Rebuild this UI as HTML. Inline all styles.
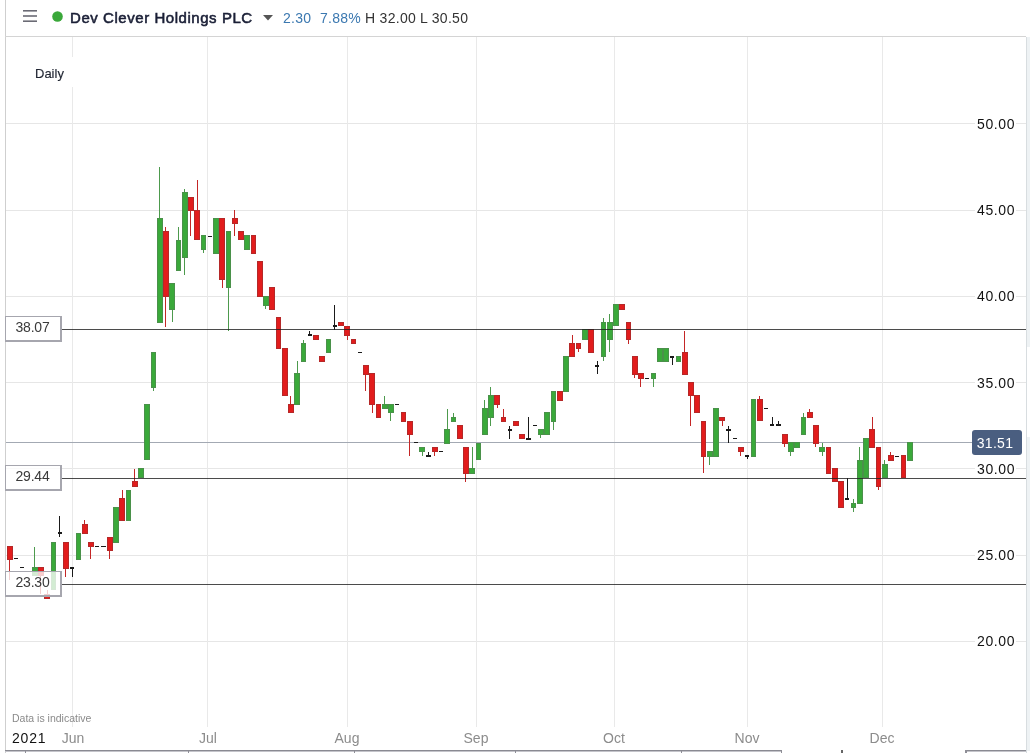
<!DOCTYPE html>
<html><head><meta charset="utf-8"><style>
*{margin:0;padding:0;box-sizing:border-box}
html,body{width:1030px;height:753px;overflow:hidden;background:#fff;font-family:"Liberation Sans",sans-serif}
#root{position:relative;width:1030px;height:753px;background:#fff}
.abs{position:absolute}
.t{will-change:transform}
.pl{position:absolute;right:14px;height:18px;line-height:18px;font-size:14px;color:#111;background:#fff;padding:0 1px 0 2px;letter-spacing:0.6px;will-change:transform}
.ml{will-change:transform;position:absolute;top:729px;width:40px;text-align:center;font-size:14px;color:#8c8c8c;line-height:18px}
.lb{will-change:transform;position:absolute;left:5px;width:57px;height:26px;border:1px solid #a6a6ae;border-right-width:2px;border-bottom-width:2px;background:rgba(255,255,255,0.78);font-size:14px;letter-spacing:-0.2px;color:#3a3a3a;line-height:21px;text-align:center;padding-right:1px}
</style></head><body><div id="root">
<svg class="abs" style="left:0;top:0" width="1030" height="753" shape-rendering="crispEdges">
<rect x="5" y="0" width="1" height="753" fill="#cfcfcf"/>
<rect x="5" y="36" width="1021" height="1" fill="#d4d4d4"/>
<rect x="1026" y="37" width="1" height="716" fill="#d8dde0"/>
<rect x="1027" y="37" width="3" height="310" fill="#eef2f4"/>
<rect x="1027" y="437" width="3" height="314" fill="#eef2f4"/>
<rect x="6" y="123" width="1020" height="1" fill="#e6e6e6"/>
<rect x="6" y="210" width="1020" height="1" fill="#e6e6e6"/>
<rect x="6" y="296" width="1020" height="1" fill="#e6e6e6"/>
<rect x="6" y="382" width="1020" height="1" fill="#e6e6e6"/>
<rect x="6" y="468" width="1020" height="1" fill="#e6e6e6"/>
<rect x="6" y="555" width="1020" height="1" fill="#e6e6e6"/>
<rect x="6" y="641" width="1020" height="1" fill="#e6e6e6"/>
<rect x="72" y="37" width="1" height="690" fill="#e9e9e9"/>
<rect x="207" y="37" width="1" height="690" fill="#e9e9e9"/>
<rect x="347" y="37" width="1" height="690" fill="#e9e9e9"/>
<rect x="476" y="37" width="1" height="690" fill="#e9e9e9"/>
<rect x="614" y="37" width="1" height="690" fill="#e9e9e9"/>
<rect x="747" y="37" width="1" height="690" fill="#e9e9e9"/>
<rect x="882" y="37" width="1" height="690" fill="#e9e9e9"/>
<rect x="6" y="442" width="966" height="1" fill="#a3a9b3"/>
</svg>
<div class="abs" style="left:28px;top:57px;width:46px;height:30px;background:#fff"></div>
<div class="abs t" style="left:35px;top:65px;font-size:13px;color:#1e2330;-webkit-text-stroke:0.15px #1e2330;line-height:18px">Daily</div>
<div class="pl" style="top:115px">50.00</div><div class="pl" style="top:201px">45.00</div><div class="pl" style="top:287px">40.00</div><div class="pl" style="top:374px">35.00</div><div class="pl" style="top:460px">30.00</div><div class="pl" style="top:546px">25.00</div><div class="pl" style="top:632px">20.00</div>
<svg class="abs" style="left:0;top:0" width="1030" height="753" shape-rendering="crispEdges">
<rect x="9" y="546" width="1" height="34" fill="#c42626"/>
<rect x="7" y="546" width="6" height="14" fill="#b52828"/>
<rect x="8" y="547" width="4" height="12" fill="#e21c1c"/>
<rect x="14" y="558" width="4" height="1" fill="#1a1a1a"/>
<rect x="20" y="567" width="4" height="1" fill="#1a1a1a"/>
<rect x="34" y="547" width="1" height="29" fill="#4d9a4d"/>
<rect x="32" y="567" width="6" height="9" fill="#4a914a"/>
<rect x="33" y="568" width="4" height="7" fill="#3aa93a"/>
<rect x="40" y="567" width="1" height="27" fill="#c42626"/>
<rect x="38" y="567" width="6" height="9" fill="#b52828"/>
<rect x="39" y="568" width="4" height="7" fill="#e21c1c"/>
<rect x="47" y="590" width="1" height="9" fill="#c42626"/>
<rect x="44" y="594" width="6" height="5" fill="#b52828"/>
<rect x="45" y="595" width="4" height="3" fill="#e21c1c"/>
<rect x="51" y="542" width="5" height="48" fill="#4a914a"/>
<rect x="52" y="543" width="3" height="46" fill="#3aa93a"/>
<rect x="59" y="516" width="1" height="21" fill="#1a1a1a"/>
<rect x="58" y="532" width="4" height="2" fill="#1a1a1a"/>
<rect x="65" y="542" width="1" height="35" fill="#c42626"/>
<rect x="63" y="542" width="6" height="27" fill="#b52828"/>
<rect x="64" y="543" width="4" height="25" fill="#e21c1c"/>
<rect x="72" y="567" width="1" height="10" fill="#1a1a1a"/>
<rect x="70" y="567" width="4" height="2" fill="#1a1a1a"/>
<rect x="76" y="533" width="5" height="27" fill="#4a914a"/>
<rect x="77" y="534" width="3" height="25" fill="#3aa93a"/>
<rect x="84" y="520" width="1" height="14" fill="#c42626"/>
<rect x="82" y="524" width="6" height="10" fill="#b52828"/>
<rect x="83" y="525" width="4" height="8" fill="#e21c1c"/>
<rect x="90" y="542" width="1" height="17" fill="#c42626"/>
<rect x="88" y="542" width="6" height="5" fill="#b52828"/>
<rect x="89" y="543" width="4" height="3" fill="#e21c1c"/>
<rect x="95" y="546" width="4" height="1" fill="#1a1a1a"/>
<rect x="101" y="546" width="5" height="1" fill="#1a1a1a"/>
<rect x="109" y="537" width="1" height="22" fill="#c42626"/>
<rect x="107" y="537" width="6" height="14" fill="#b52828"/>
<rect x="108" y="538" width="4" height="12" fill="#e21c1c"/>
<rect x="113" y="507" width="6" height="36" fill="#4a914a"/>
<rect x="114" y="508" width="4" height="34" fill="#3aa93a"/>
<rect x="122" y="490" width="1" height="31" fill="#c42626"/>
<rect x="119" y="498" width="6" height="23" fill="#b52828"/>
<rect x="120" y="499" width="4" height="21" fill="#e21c1c"/>
<rect x="126" y="490" width="5" height="31" fill="#4a914a"/>
<rect x="127" y="491" width="3" height="29" fill="#3aa93a"/>
<rect x="134" y="469" width="1" height="18" fill="#c42626"/>
<rect x="132" y="481" width="6" height="6" fill="#b52828"/>
<rect x="133" y="482" width="4" height="4" fill="#e21c1c"/>
<rect x="138" y="468" width="6" height="10" fill="#4a914a"/>
<rect x="139" y="469" width="4" height="8" fill="#3aa93a"/>
<rect x="144" y="404" width="6" height="56" fill="#4a914a"/>
<rect x="145" y="405" width="4" height="54" fill="#3aa93a"/>
<rect x="153" y="352" width="1" height="39" fill="#4d9a4d"/>
<rect x="151" y="352" width="5" height="36" fill="#4a914a"/>
<rect x="152" y="353" width="3" height="34" fill="#3aa93a"/>
<rect x="159" y="167" width="1" height="156" fill="#4d9a4d"/>
<rect x="157" y="218" width="6" height="105" fill="#4a914a"/>
<rect x="158" y="219" width="4" height="103" fill="#3aa93a"/>
<rect x="165" y="227" width="1" height="100" fill="#c42626"/>
<rect x="163" y="231" width="6" height="66" fill="#b52828"/>
<rect x="164" y="232" width="4" height="64" fill="#e21c1c"/>
<rect x="172" y="283" width="1" height="39" fill="#4d9a4d"/>
<rect x="169" y="283" width="6" height="27" fill="#4a914a"/>
<rect x="170" y="284" width="4" height="25" fill="#3aa93a"/>
<rect x="178" y="227" width="1" height="44" fill="#4d9a4d"/>
<rect x="176" y="240" width="5" height="31" fill="#4a914a"/>
<rect x="177" y="241" width="3" height="29" fill="#3aa93a"/>
<rect x="184" y="189" width="1" height="86" fill="#4d9a4d"/>
<rect x="182" y="192" width="6" height="66" fill="#4a914a"/>
<rect x="183" y="193" width="4" height="64" fill="#3aa93a"/>
<rect x="190" y="197" width="1" height="39" fill="#c42626"/>
<rect x="188" y="197" width="6" height="14" fill="#b52828"/>
<rect x="189" y="198" width="4" height="12" fill="#e21c1c"/>
<rect x="197" y="180" width="1" height="60" fill="#c42626"/>
<rect x="194" y="210" width="6" height="30" fill="#b52828"/>
<rect x="195" y="211" width="4" height="28" fill="#e21c1c"/>
<rect x="203" y="235" width="1" height="18" fill="#4d9a4d"/>
<rect x="201" y="235" width="5" height="15" fill="#4a914a"/>
<rect x="202" y="236" width="3" height="13" fill="#3aa93a"/>
<rect x="208" y="236" width="4" height="1" fill="#1a1a1a"/>
<rect x="213" y="218" width="6" height="36" fill="#4a914a"/>
<rect x="214" y="219" width="4" height="34" fill="#3aa93a"/>
<rect x="222" y="218" width="1" height="70" fill="#c42626"/>
<rect x="219" y="218" width="6" height="62" fill="#b52828"/>
<rect x="220" y="219" width="4" height="60" fill="#e21c1c"/>
<rect x="228" y="231" width="1" height="100" fill="#4d9a4d"/>
<rect x="226" y="231" width="5" height="57" fill="#4a914a"/>
<rect x="227" y="232" width="3" height="55" fill="#3aa93a"/>
<rect x="234" y="210" width="1" height="26" fill="#c42626"/>
<rect x="232" y="218" width="6" height="6" fill="#b52828"/>
<rect x="233" y="219" width="4" height="4" fill="#e21c1c"/>
<rect x="238" y="231" width="6" height="9" fill="#b52828"/>
<rect x="239" y="232" width="4" height="7" fill="#e21c1c"/>
<rect x="244" y="235" width="6" height="15" fill="#4a914a"/>
<rect x="245" y="236" width="4" height="13" fill="#3aa93a"/>
<rect x="251" y="235" width="5" height="19" fill="#b52828"/>
<rect x="252" y="236" width="3" height="17" fill="#e21c1c"/>
<rect x="257" y="261" width="6" height="36" fill="#b52828"/>
<rect x="258" y="262" width="4" height="34" fill="#e21c1c"/>
<rect x="265" y="296" width="1" height="13" fill="#4d9a4d"/>
<rect x="263" y="296" width="6" height="10" fill="#4a914a"/>
<rect x="264" y="297" width="4" height="8" fill="#3aa93a"/>
<rect x="269" y="287" width="6" height="23" fill="#b52828"/>
<rect x="270" y="288" width="4" height="21" fill="#e21c1c"/>
<rect x="276" y="317" width="5" height="32" fill="#b52828"/>
<rect x="277" y="318" width="3" height="30" fill="#e21c1c"/>
<rect x="282" y="348" width="6" height="48" fill="#b52828"/>
<rect x="283" y="349" width="4" height="46" fill="#e21c1c"/>
<rect x="290" y="396" width="1" height="17" fill="#c42626"/>
<rect x="288" y="404" width="6" height="9" fill="#b52828"/>
<rect x="289" y="405" width="4" height="7" fill="#e21c1c"/>
<rect x="297" y="361" width="1" height="44" fill="#4d9a4d"/>
<rect x="294" y="373" width="6" height="32" fill="#4a914a"/>
<rect x="295" y="374" width="4" height="30" fill="#3aa93a"/>
<rect x="303" y="340" width="1" height="22" fill="#4d9a4d"/>
<rect x="301" y="343" width="5" height="19" fill="#4a914a"/>
<rect x="302" y="344" width="3" height="17" fill="#3aa93a"/>
<rect x="309" y="331" width="1" height="5" fill="#1a1a1a"/>
<rect x="308" y="334" width="4" height="2" fill="#1a1a1a"/>
<rect x="313" y="335" width="6" height="5" fill="#b52828"/>
<rect x="314" y="336" width="4" height="3" fill="#e21c1c"/>
<rect x="319" y="356" width="6" height="6" fill="#b52828"/>
<rect x="320" y="357" width="4" height="4" fill="#e21c1c"/>
<rect x="326" y="339" width="5" height="14" fill="#4a914a"/>
<rect x="327" y="340" width="3" height="12" fill="#3aa93a"/>
<rect x="334" y="305" width="1" height="25" fill="#1a1a1a"/>
<rect x="333" y="325" width="4" height="2" fill="#1a1a1a"/>
<rect x="338" y="322" width="6" height="4" fill="#b52828"/>
<rect x="339" y="323" width="4" height="2" fill="#e21c1c"/>
<rect x="347" y="326" width="1" height="14" fill="#c42626"/>
<rect x="344" y="326" width="6" height="10" fill="#b52828"/>
<rect x="345" y="327" width="4" height="8" fill="#e21c1c"/>
<rect x="351" y="339" width="5" height="5" fill="#b52828"/>
<rect x="352" y="340" width="3" height="3" fill="#e21c1c"/>
<rect x="358" y="352" width="4" height="1" fill="#1a1a1a"/>
<rect x="365" y="365" width="1" height="26" fill="#c42626"/>
<rect x="363" y="365" width="6" height="10" fill="#b52828"/>
<rect x="364" y="366" width="4" height="8" fill="#e21c1c"/>
<rect x="372" y="373" width="1" height="40" fill="#c42626"/>
<rect x="369" y="373" width="6" height="32" fill="#b52828"/>
<rect x="370" y="374" width="4" height="30" fill="#e21c1c"/>
<rect x="376" y="404" width="5" height="14" fill="#b52828"/>
<rect x="377" y="405" width="3" height="12" fill="#e21c1c"/>
<rect x="384" y="396" width="1" height="13" fill="#4d9a4d"/>
<rect x="382" y="404" width="6" height="5" fill="#4a914a"/>
<rect x="383" y="405" width="4" height="3" fill="#3aa93a"/>
<rect x="390" y="404" width="1" height="17" fill="#4d9a4d"/>
<rect x="388" y="404" width="6" height="9" fill="#4a914a"/>
<rect x="389" y="405" width="4" height="7" fill="#3aa93a"/>
<rect x="395" y="404" width="4" height="1" fill="#1a1a1a"/>
<rect x="401" y="412" width="5" height="10" fill="#b52828"/>
<rect x="402" y="413" width="3" height="8" fill="#e21c1c"/>
<rect x="409" y="421" width="1" height="35" fill="#c42626"/>
<rect x="407" y="421" width="6" height="14" fill="#b52828"/>
<rect x="408" y="422" width="4" height="12" fill="#e21c1c"/>
<rect x="414" y="442" width="4" height="1" fill="#1a1a1a"/>
<rect x="422" y="447" width="1" height="9" fill="#4d9a4d"/>
<rect x="419" y="447" width="6" height="5" fill="#4a914a"/>
<rect x="420" y="448" width="4" height="3" fill="#3aa93a"/>
<rect x="428" y="452" width="1" height="5" fill="#1a1a1a"/>
<rect x="426" y="455" width="5" height="2" fill="#1a1a1a"/>
<rect x="434" y="447" width="1" height="9" fill="#c42626"/>
<rect x="432" y="447" width="6" height="5" fill="#b52828"/>
<rect x="433" y="448" width="4" height="3" fill="#e21c1c"/>
<rect x="439" y="451" width="4" height="1" fill="#1a1a1a"/>
<rect x="447" y="409" width="1" height="35" fill="#4d9a4d"/>
<rect x="444" y="429" width="6" height="15" fill="#4a914a"/>
<rect x="445" y="430" width="4" height="13" fill="#3aa93a"/>
<rect x="453" y="413" width="1" height="9" fill="#4d9a4d"/>
<rect x="451" y="417" width="5" height="5" fill="#4a914a"/>
<rect x="452" y="418" width="3" height="3" fill="#3aa93a"/>
<rect x="457" y="425" width="6" height="14" fill="#b52828"/>
<rect x="458" y="426" width="4" height="12" fill="#e21c1c"/>
<rect x="465" y="447" width="1" height="35" fill="#c42626"/>
<rect x="463" y="447" width="6" height="27" fill="#b52828"/>
<rect x="464" y="448" width="4" height="25" fill="#e21c1c"/>
<rect x="472" y="447" width="1" height="27" fill="#4d9a4d"/>
<rect x="469" y="468" width="6" height="6" fill="#4a914a"/>
<rect x="470" y="469" width="4" height="4" fill="#3aa93a"/>
<rect x="476" y="443" width="5" height="17" fill="#4a914a"/>
<rect x="477" y="444" width="3" height="15" fill="#3aa93a"/>
<rect x="484" y="400" width="1" height="35" fill="#4d9a4d"/>
<rect x="482" y="408" width="6" height="27" fill="#4a914a"/>
<rect x="483" y="409" width="4" height="25" fill="#3aa93a"/>
<rect x="490" y="387" width="1" height="39" fill="#4d9a4d"/>
<rect x="488" y="395" width="6" height="23" fill="#4a914a"/>
<rect x="489" y="396" width="4" height="21" fill="#3aa93a"/>
<rect x="497" y="395" width="1" height="13" fill="#c42626"/>
<rect x="494" y="395" width="6" height="10" fill="#b52828"/>
<rect x="495" y="396" width="4" height="8" fill="#e21c1c"/>
<rect x="503" y="409" width="1" height="13" fill="#c42626"/>
<rect x="501" y="417" width="5" height="5" fill="#b52828"/>
<rect x="502" y="418" width="3" height="3" fill="#e21c1c"/>
<rect x="509" y="426" width="1" height="13" fill="#1a1a1a"/>
<rect x="508" y="429" width="4" height="2" fill="#1a1a1a"/>
<rect x="513" y="421" width="6" height="5" fill="#b52828"/>
<rect x="514" y="422" width="4" height="3" fill="#e21c1c"/>
<rect x="519" y="434" width="6" height="5" fill="#b52828"/>
<rect x="520" y="435" width="4" height="3" fill="#e21c1c"/>
<rect x="528" y="417" width="1" height="23" fill="#1a1a1a"/>
<rect x="526" y="438" width="5" height="2" fill="#1a1a1a"/>
<rect x="533" y="425" width="4" height="1" fill="#1a1a1a"/>
<rect x="540" y="429" width="1" height="9" fill="#4d9a4d"/>
<rect x="538" y="429" width="6" height="6" fill="#4a914a"/>
<rect x="539" y="430" width="4" height="4" fill="#3aa93a"/>
<rect x="544" y="412" width="6" height="23" fill="#4a914a"/>
<rect x="545" y="413" width="4" height="21" fill="#3aa93a"/>
<rect x="553" y="391" width="1" height="39" fill="#4d9a4d"/>
<rect x="551" y="391" width="5" height="31" fill="#4a914a"/>
<rect x="552" y="392" width="3" height="29" fill="#3aa93a"/>
<rect x="557" y="391" width="6" height="10" fill="#b52828"/>
<rect x="558" y="392" width="4" height="8" fill="#e21c1c"/>
<rect x="563" y="356" width="6" height="36" fill="#4a914a"/>
<rect x="564" y="357" width="4" height="34" fill="#3aa93a"/>
<rect x="572" y="335" width="1" height="22" fill="#c42626"/>
<rect x="569" y="343" width="6" height="14" fill="#b52828"/>
<rect x="570" y="344" width="4" height="12" fill="#e21c1c"/>
<rect x="578" y="343" width="1" height="9" fill="#c42626"/>
<rect x="576" y="343" width="5" height="6" fill="#b52828"/>
<rect x="577" y="344" width="3" height="4" fill="#e21c1c"/>
<rect x="582" y="329" width="6" height="11" fill="#4a914a"/>
<rect x="583" y="330" width="4" height="9" fill="#3aa93a"/>
<rect x="588" y="329" width="6" height="24" fill="#b52828"/>
<rect x="589" y="330" width="4" height="22" fill="#e21c1c"/>
<rect x="597" y="361" width="1" height="13" fill="#1a1a1a"/>
<rect x="595" y="365" width="4" height="2" fill="#1a1a1a"/>
<rect x="603" y="318" width="1" height="43" fill="#4d9a4d"/>
<rect x="601" y="322" width="5" height="35" fill="#4a914a"/>
<rect x="602" y="323" width="3" height="33" fill="#3aa93a"/>
<rect x="609" y="314" width="1" height="38" fill="#4d9a4d"/>
<rect x="607" y="322" width="6" height="18" fill="#4a914a"/>
<rect x="608" y="323" width="4" height="16" fill="#3aa93a"/>
<rect x="613" y="304" width="6" height="22" fill="#4a914a"/>
<rect x="614" y="305" width="4" height="20" fill="#3aa93a"/>
<rect x="619" y="304" width="6" height="6" fill="#b52828"/>
<rect x="620" y="305" width="4" height="4" fill="#e21c1c"/>
<rect x="628" y="322" width="1" height="22" fill="#c42626"/>
<rect x="626" y="322" width="5" height="18" fill="#b52828"/>
<rect x="627" y="323" width="3" height="16" fill="#e21c1c"/>
<rect x="634" y="356" width="1" height="22" fill="#c42626"/>
<rect x="632" y="356" width="6" height="19" fill="#b52828"/>
<rect x="633" y="357" width="4" height="17" fill="#e21c1c"/>
<rect x="640" y="373" width="1" height="14" fill="#c42626"/>
<rect x="638" y="373" width="6" height="6" fill="#b52828"/>
<rect x="639" y="374" width="4" height="4" fill="#e21c1c"/>
<rect x="645" y="378" width="4" height="1" fill="#1a1a1a"/>
<rect x="653" y="373" width="1" height="14" fill="#4d9a4d"/>
<rect x="651" y="373" width="5" height="6" fill="#4a914a"/>
<rect x="652" y="374" width="3" height="4" fill="#3aa93a"/>
<rect x="657" y="348" width="6" height="14" fill="#4a914a"/>
<rect x="658" y="349" width="4" height="12" fill="#3aa93a"/>
<rect x="663" y="348" width="6" height="14" fill="#4a914a"/>
<rect x="664" y="349" width="4" height="12" fill="#3aa93a"/>
<rect x="672" y="356" width="1" height="9" fill="#1a1a1a"/>
<rect x="670" y="356" width="4" height="2" fill="#1a1a1a"/>
<rect x="676" y="356" width="5" height="6" fill="#4a914a"/>
<rect x="677" y="357" width="3" height="4" fill="#3aa93a"/>
<rect x="684" y="331" width="1" height="44" fill="#c42626"/>
<rect x="682" y="352" width="6" height="23" fill="#b52828"/>
<rect x="683" y="353" width="4" height="21" fill="#e21c1c"/>
<rect x="690" y="382" width="1" height="44" fill="#c42626"/>
<rect x="688" y="382" width="6" height="14" fill="#b52828"/>
<rect x="689" y="383" width="4" height="12" fill="#e21c1c"/>
<rect x="694" y="395" width="6" height="18" fill="#b52828"/>
<rect x="695" y="396" width="4" height="16" fill="#e21c1c"/>
<rect x="703" y="421" width="1" height="52" fill="#c42626"/>
<rect x="701" y="421" width="5" height="36" fill="#b52828"/>
<rect x="702" y="422" width="3" height="34" fill="#e21c1c"/>
<rect x="709" y="451" width="1" height="14" fill="#4d9a4d"/>
<rect x="707" y="451" width="6" height="6" fill="#4a914a"/>
<rect x="708" y="452" width="4" height="4" fill="#3aa93a"/>
<rect x="713" y="408" width="6" height="49" fill="#4a914a"/>
<rect x="714" y="409" width="4" height="47" fill="#3aa93a"/>
<rect x="722" y="417" width="1" height="9" fill="#c42626"/>
<rect x="719" y="417" width="6" height="4" fill="#b52828"/>
<rect x="720" y="418" width="4" height="2" fill="#e21c1c"/>
<rect x="728" y="426" width="1" height="17" fill="#1a1a1a"/>
<rect x="726" y="429" width="5" height="2" fill="#1a1a1a"/>
<rect x="733" y="438" width="4" height="1" fill="#1a1a1a"/>
<rect x="740" y="447" width="1" height="9" fill="#c42626"/>
<rect x="738" y="447" width="6" height="5" fill="#b52828"/>
<rect x="739" y="448" width="4" height="3" fill="#e21c1c"/>
<rect x="747" y="455" width="1" height="4" fill="#1a1a1a"/>
<rect x="745" y="455" width="4" height="2" fill="#1a1a1a"/>
<rect x="751" y="399" width="5" height="58" fill="#4a914a"/>
<rect x="752" y="400" width="3" height="56" fill="#3aa93a"/>
<rect x="759" y="396" width="1" height="25" fill="#c42626"/>
<rect x="757" y="399" width="6" height="22" fill="#b52828"/>
<rect x="758" y="400" width="4" height="20" fill="#e21c1c"/>
<rect x="764" y="408" width="4" height="1" fill="#1a1a1a"/>
<rect x="772" y="417" width="1" height="9" fill="#1a1a1a"/>
<rect x="770" y="424" width="4" height="2" fill="#1a1a1a"/>
<rect x="778" y="421" width="1" height="5" fill="#1a1a1a"/>
<rect x="776" y="424" width="5" height="2" fill="#1a1a1a"/>
<rect x="784" y="434" width="1" height="13" fill="#c42626"/>
<rect x="782" y="434" width="6" height="10" fill="#b52828"/>
<rect x="783" y="435" width="4" height="8" fill="#e21c1c"/>
<rect x="790" y="442" width="1" height="14" fill="#4d9a4d"/>
<rect x="788" y="442" width="6" height="10" fill="#4a914a"/>
<rect x="789" y="443" width="4" height="8" fill="#3aa93a"/>
<rect x="794" y="442" width="6" height="6" fill="#4a914a"/>
<rect x="795" y="443" width="4" height="4" fill="#3aa93a"/>
<rect x="803" y="413" width="1" height="22" fill="#4d9a4d"/>
<rect x="801" y="417" width="5" height="18" fill="#4a914a"/>
<rect x="802" y="418" width="3" height="16" fill="#3aa93a"/>
<rect x="809" y="409" width="1" height="9" fill="#c42626"/>
<rect x="807" y="412" width="6" height="6" fill="#b52828"/>
<rect x="808" y="413" width="4" height="4" fill="#e21c1c"/>
<rect x="815" y="425" width="1" height="22" fill="#c42626"/>
<rect x="813" y="425" width="6" height="19" fill="#b52828"/>
<rect x="814" y="426" width="4" height="17" fill="#e21c1c"/>
<rect x="822" y="443" width="1" height="13" fill="#4d9a4d"/>
<rect x="819" y="447" width="6" height="5" fill="#4a914a"/>
<rect x="820" y="448" width="4" height="3" fill="#3aa93a"/>
<rect x="826" y="447" width="5" height="27" fill="#b52828"/>
<rect x="827" y="448" width="3" height="25" fill="#e21c1c"/>
<rect x="832" y="468" width="6" height="14" fill="#b52828"/>
<rect x="833" y="469" width="4" height="12" fill="#e21c1c"/>
<rect x="838" y="481" width="6" height="27" fill="#b52828"/>
<rect x="839" y="482" width="4" height="25" fill="#e21c1c"/>
<rect x="847" y="478" width="1" height="22" fill="#1a1a1a"/>
<rect x="845" y="498" width="4" height="2" fill="#1a1a1a"/>
<rect x="853" y="499" width="1" height="13" fill="#4d9a4d"/>
<rect x="851" y="503" width="5" height="5" fill="#4a914a"/>
<rect x="852" y="504" width="3" height="3" fill="#3aa93a"/>
<rect x="859" y="447" width="1" height="57" fill="#4d9a4d"/>
<rect x="857" y="460" width="6" height="44" fill="#4a914a"/>
<rect x="858" y="461" width="4" height="42" fill="#3aa93a"/>
<rect x="863" y="438" width="6" height="40" fill="#4a914a"/>
<rect x="864" y="439" width="4" height="38" fill="#3aa93a"/>
<rect x="872" y="417" width="1" height="31" fill="#c42626"/>
<rect x="869" y="429" width="6" height="19" fill="#b52828"/>
<rect x="870" y="430" width="4" height="17" fill="#e21c1c"/>
<rect x="878" y="447" width="1" height="43" fill="#c42626"/>
<rect x="876" y="447" width="5" height="40" fill="#b52828"/>
<rect x="877" y="448" width="3" height="38" fill="#e21c1c"/>
<rect x="884" y="460" width="1" height="18" fill="#4d9a4d"/>
<rect x="882" y="464" width="6" height="14" fill="#4a914a"/>
<rect x="883" y="465" width="4" height="12" fill="#3aa93a"/>
<rect x="890" y="452" width="1" height="9" fill="#c42626"/>
<rect x="888" y="455" width="6" height="6" fill="#b52828"/>
<rect x="889" y="456" width="4" height="4" fill="#e21c1c"/>
<rect x="895" y="456" width="4" height="1" fill="#1a1a1a"/>
<rect x="901" y="455" width="5" height="23" fill="#b52828"/>
<rect x="902" y="456" width="3" height="21" fill="#e21c1c"/>
<rect x="907" y="442" width="6" height="19" fill="#4a914a"/>
<rect x="908" y="443" width="4" height="17" fill="#3aa93a"/>
<rect x="62" y="329" width="964" height="1" fill="rgba(30,30,30,0.8)"/>
<rect x="62" y="478" width="964" height="1" fill="rgba(30,30,30,0.8)"/>
<rect x="62" y="584" width="964" height="1" fill="rgba(30,30,30,0.8)"/>
</svg>
<div class="lb" style="top:316px">38.07</div>
<div class="lb" style="top:465px">29.44</div>
<div class="lb" style="top:571px">23.30</div>
<div class="abs t" style="left:972px;top:430px;width:50px;height:25px;background:#4a5e80;border-radius:3px;color:#fff;font-size:14px;line-height:25px;text-align:center;letter-spacing:0.3px;padding-top:1px;padding-right:4px;will-change:transform">31.51</div>
<!-- header -->
<svg class="abs" style="left:0;top:0" width="300" height="36">
<rect x="23" y="10" width="14" height="1.6" fill="#6b6b75"/>
<rect x="23" y="15.2" width="14" height="1.6" fill="#6b6b75"/>
<rect x="23" y="20.4" width="14" height="1.6" fill="#6b6b75"/>
<circle cx="57.5" cy="16.5" r="5.3" fill="#3aa83a"/>
<path d="M263 15 L273 15 L268 20.5 Z" fill="#555"/>
</svg>
<div class="abs t" style="left:70px;top:9px;font-size:15px;color:#1a1f36;-webkit-text-stroke:0.55px #1a1f36;letter-spacing:0.55px;line-height:18px;white-space:nowrap">Dev Clever Holdings PLC</div>
<div class="abs t" style="left:283px;top:9px;letter-spacing:0.25px;font-size:14px;color:#3b78b0;line-height:18px;white-space:nowrap">2.30</div>
<div class="abs t" style="left:320px;top:9px;letter-spacing:0.25px;font-size:14px;color:#3b78b0;line-height:18px;white-space:nowrap">7.88%</div>
<div class="abs t" style="left:365px;top:9px;letter-spacing:0.3px;font-size:14px;color:#333;line-height:18px;white-space:nowrap">H 32.00</div>
<div class="abs t" style="left:420px;top:9px;letter-spacing:0.3px;font-size:14px;color:#333;line-height:18px;white-space:nowrap">L 30.50</div>
<!-- bottom -->
<div class="abs t" style="left:12px;top:711px;font-size:10.5px;color:#8a8a8a;line-height:14px;white-space:nowrap">Data is indicative</div>
<div class="abs t" style="left:12px;top:729px;font-size:14px;color:#111;line-height:18px;letter-spacing:0.8px">2021</div>
<div class="ml" style="left:53px">Jun</div><div class="ml" style="left:188px">Jul</div><div class="ml" style="left:327px">Aug</div><div class="ml" style="left:456px">Sep</div><div class="ml" style="left:594px">Oct</div><div class="ml" style="left:727px">Nov</div><div class="ml" style="left:862px">Dec</div>
<svg class="abs" style="left:0;top:0" width="1030" height="753" shape-rendering="crispEdges">
<rect x="5" y="750" width="777" height="1" fill="#8a8a92"/>
<rect x="5" y="751" width="777" height="1" fill="#c4c4ca"/>
<rect x="25" y="751" width="1" height="2" fill="#8e8e96"/>
<rect x="781" y="750" width="1" height="3" fill="#8e8e96"/>
<rect x="188" y="751" width="1" height="2" fill="#8e8e96"/>
<rect x="354" y="751" width="1" height="2" fill="#8e8e96"/>
<rect x="515" y="751" width="1" height="2" fill="#8e8e96"/>
<rect x="681" y="751" width="1" height="2" fill="#8e8e96"/>
<rect x="841" y="750" width="2" height="3" fill="#666"/>
<rect x="965" y="750" width="61" height="1" fill="#8a8a92"/>
<rect x="965" y="751" width="61" height="1" fill="#c4c4ca"/>
<rect x="965" y="750" width="2" height="3" fill="#8e8e96"/>
</svg>
</div></body></html>
